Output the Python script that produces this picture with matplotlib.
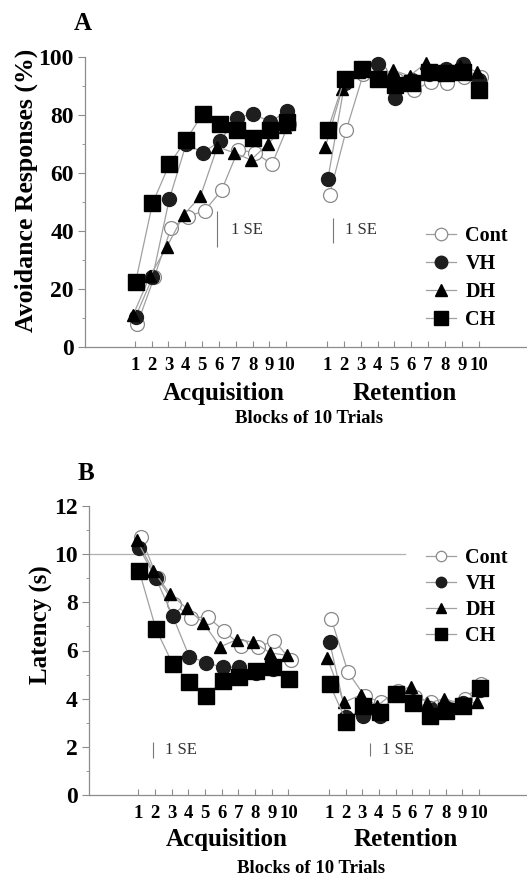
import numpy as np
import matplotlib
matplotlib.use('Agg')
from matplotlib import pyplot as plt
from matplotlib.lines import Line2D

# blocks of 10 trials
blocks = list(range(1, 11))
block_labels = [str(b) for b in blocks]
groups = ['Cont', 'VH', 'DH', 'CH']

# panel A: avoidance responses (%)
avoid_acq = {
    'Cont': [8, 24, 41, 45, 47, 54, 68, 67, 63, 77],
    'VH':   [10.5, 24, 51, 70, 67, 71, 79, 80.5, 77.5, 81.5],
    'DH':   [11, 24.5, 34.5, 45.5, 52, 69, 67, 64.5, 70, 76],
    'CH':   [22.5, 49.5, 63, 71.5, 80.5, 77, 75, 72, 75, 77.5],
}
avoid_ret = {
    'Cont': [52.5, 75, 94, 95, 92, 88.5, 91.5, 91, 93, 93],
    'VH':   [58, 91, 96, 97.5, 86, 92, 94, 96, 97.5, 92],
    'DH':   [69, 89, 95, 93, 95.5, 93.5, 98, 94, 97, 95],
    'CH':   [75, 92.5, 96, 92.5, 90.5, 91, 95, 94.5, 95, 88.5],
}

# panel B: latency (s)
lat_acq = {
    'Cont': [10.7, 9.0, 7.95, 7.35, 7.4, 6.8, 6.2, 6.15, 6.4, 5.6],
    'VH':   [10.25, 9.0, 7.45, 5.75, 5.5, 5.3, 5.3, 5.05, 5.25, 4.8],
    'DH':   [10.6, 9.3, 8.35, 7.75, 7.15, 6.15, 6.45, 6.35, 5.9, 5.8],
    'CH':   [9.3, 6.9, 5.45, 4.7, 4.1, 4.75, 4.9, 5.15, 5.3, 4.8],
}
lat_ret = {
    'Cont': [7.3, 5.1, 4.1, 3.85, 4.3, 4.05, 3.85, 3.6, 4.0, 4.6],
    'VH':   [6.35, 3.25, 3.3, 3.3, 4.25, 3.9, 3.6, 3.6, 3.8, 4.35],
    'DH':   [5.7, 3.85, 4.15, 3.7, 4.25, 4.5, 3.8, 4.0, 3.8, 3.85],
    'CH':   [4.6, 3.05, 3.7, 3.45, 4.2, 3.8, 3.3, 3.5, 3.7, 4.45],
}

# standard error bar lengths (acquisition, retention)
se_avoid = [12.5, 8.6]
se_lat = [0.65, 0.55]

LINE = '#a0a0a0'
AXC = '#8c8c8c'
SERIF = 'Liberation Serif'

styles = {
    'Cont': dict(marker='o', ms=10, mfc='white', mec='#8a8a8a', mew=0.9),
    'VH':   dict(marker='o', ms=10, mfc='#1e1e1e', mec='#1e1e1e'),
    'DH':   dict(marker='^', ms=9, mfc='black', mec='black'),
    'CH':   dict(marker='s', ms=11, mfc='black', mec='black'),
}
xoff = {'Cont': 0.15, 'VH': 0.05, 'DH': -0.1, 'CH': 0.05}

ret_shift = 11.42
x_acq = np.array(blocks, dtype=float)
x_ret = x_acq + ret_shift
XMIN, XMAX = -1.96, 24.3


def draw_panel(ax, acq, ret, ymax, major, minor):
    for g in groups:
        for xs, ys in ((x_acq, acq[g]), (x_ret, ret[g])):
            ax.plot(xs + xoff[g], ys, '-', color=LINE, lw=0.9, clip_on=False,
                    **styles[g])
    ax.set_xlim(XMIN, XMAX)
    ax.set_ylim(0, ymax)
    for s in ['top', 'right']:
        ax.spines[s].set_visible(False)
    for s in ['left', 'bottom']:
        ax.spines[s].set_color(AXC)
        ax.spines[s].set_linewidth(0.9)
    ax.set_yticks(np.arange(0, ymax + 0.1, major))
    ax.set_yticks(np.arange(0, ymax + 0.1, minor), minor=True)
    ax.set_xticks(np.concatenate([x_acq, x_ret]))
    ax.set_xticklabels(block_labels + block_labels)
    ax.tick_params(axis='y', which='major', direction='out', length=5,
                   color=AXC, pad=3, labelsize=17)
    ax.tick_params(axis='y', which='minor', direction='out', length=2.5,
                   color=AXC)
    ax.tick_params(axis='x', direction='in', length=4, color=AXC, pad=7,
                   labelsize=13.5)
    for lab in ax.get_xticklabels() + ax.get_yticklabels():
        lab.set_fontfamily(SERIF)
        lab.set_fontweight('bold')


def group_titles(ax, y):
    tr = ax.get_xaxis_transform()
    ax.text(6.27, y, 'Acquisition', transform=tr, ha='center', va='center',
            fontsize=18, fontweight='bold', family=SERIF)
    ax.text(17.04, y, 'Retention', transform=tr, ha='center', va='center',
            fontsize=18, fontweight='bold', family=SERIF)


fig = plt.figure(figsize=(5.27, 8.77), dpi=100)
W, H = 527.0, 877.0

# ---- panel A
axA = fig.add_axes([85 / W, 1 - 347 / H, (W - 85) / W, 290 / H])
draw_panel(axA, avoid_acq, avoid_ret, 100, 20, 10)
group_titles(axA, -0.162)
axA.text(11.36, -0.245, 'Blocks of 10 Trials', transform=axA.get_xaxis_transform(),
         ha='center', va='center', fontsize=13.5, fontweight='bold', family=SERIF)
axA.set_ylabel('Avoidance Responses (%)', fontsize=18.5, fontweight='bold',
               family=SERIF)
axA.yaxis.set_label_coords(-47 / 442, 0.54)
axA.vlines(5.9, 34.5, 34.5 + se_avoid[0], color='#777777', lw=0.8)
axA.text(6.7, 40.5, '1 SE', fontsize=12, family=SERIF, va='center', color='#333333')
axA.vlines(12.8, 36, 36 + se_avoid[1], color='#777777', lw=0.8)
axA.text(13.5, 40.5, '1 SE', fontsize=12, family=SERIF, va='center', color='#333333')
fig.text(83 / W, 1 - 23 / H, 'A', fontsize=18, fontweight='bold', family=SERIF,
         ha='center', va='center')

# ---- panel B
axB = fig.add_axes([89 / W, 1 - 795 / H, (W - 89) / W, 289 / H])
axB.axhline(10, xmin=0, xmax=(405 - 89) / (W - 89), color='#b0b0b0', lw=0.9)
draw_panel(axB, lat_acq, lat_ret, 12, 2, 1)
group_titles(axB, -0.155)
axB.text(11.36, -0.255, 'Blocks of 10 Trials', transform=axB.get_xaxis_transform(),
         ha='center', va='center', fontsize=13.5, fontweight='bold', family=SERIF)
axB.set_ylabel('Latency (s)', fontsize=18, fontweight='bold', family=SERIF)
axB.yaxis.set_label_coords(-36 / 438, 0.59)
axB.vlines(1.9, 1.55, 1.55 + se_lat[0], color='#777777', lw=0.8)
axB.text(2.6, 1.85, '1 SE', fontsize=12, family=SERIF, va='center', color='#333333')
axB.vlines(14.86, 1.6, 1.6 + se_lat[1], color='#777777', lw=0.8)
axB.text(15.6, 1.85, '1 SE', fontsize=12, family=SERIF, va='center', color='#333333')
fig.text(86 / W, 1 - 473 / H, 'B', fontsize=18, fontweight='bold', family=SERIF,
         ha='center', va='center')

# legends
handles = [Line2D([], [], color=LINE, lw=0.9, **styles[g]) for g in groups]
for ax, top, sp, msc in ((axA, 216, 0.4, 0.9), (axB, 538, 0.3, 0.75)):
    ax.legend(handles, groups, loc='upper left', frameon=False, borderpad=0,
              bbox_to_anchor=(416 / W, 1 - top / H), bbox_transform=fig.transFigure,
              handlelength=1.5, handletextpad=0.45, labelspacing=sp,
              markerscale=msc,
              prop=dict(family=SERIF, weight='bold', size=14.5))

fig.savefig('out.png', dpi=100)
